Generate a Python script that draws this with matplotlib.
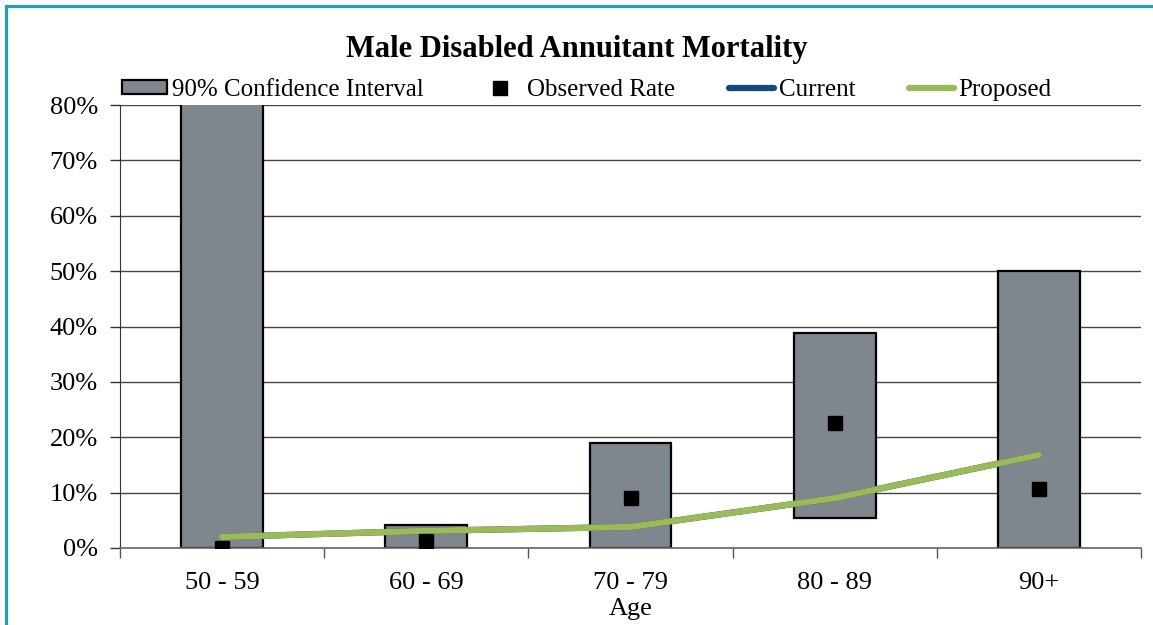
import matplotlib.pyplot as plt
from matplotlib.patches import Rectangle
from matplotlib.ticker import PercentFormatter

plt.rcParams['font.family'] = ['Liberation Serif', 'DejaVu Serif']

age_groups = ['50 - 59', '60 - 69', '70 - 79', '80 - 89', '90+']
ci_low = [0.0, 0.0, 0.0, 5.5, 0.0]
ci_high = [100.0, 4.2, 18.9, 38.9, 50.0]
observed = [0.0, 1.3, 9.0, 22.6, 10.6]
current = [2.0, 3.1, 3.8, 9.0, 16.8]
proposed = [2.0, 3.1, 3.8, 9.0, 16.8]

fig = plt.figure(figsize=(11.53, 6.25), dpi=100)
ax = fig.add_axes([0.1041, 0.1232, 0.8855, 0.7088])

x = list(range(len(age_groups)))
heights = [h - l for l, h in zip(ci_low, ci_high)]
bars = ax.bar(x, heights, bottom=ci_low, width=0.4, color='#7F868E',
              edgecolor='black', linewidth=1.6, zorder=2)
obs, = ax.plot(x, observed, linestyle='none', marker='s', markersize=9.5, color='black', zorder=5)
cur, = ax.plot(x, current, color='#0F4A7A', linewidth=4.5, solid_capstyle='round', zorder=3)
prop, = ax.plot(x, proposed, color='#9BBB59', linewidth=4.5, solid_capstyle='round', zorder=4)

ax.set_xlim(-0.5, 4.5)
ax.set_ylim(0, 80)
ax.yaxis.set_major_formatter(PercentFormatter(decimals=0))
ax.set_yticks(range(0, 81, 10))
ax.grid(axis='y', color='#444444', linewidth=1.0, zorder=0)
ax.set_axisbelow(True)

# labels sit at category centres, ticks sit on the boundaries
ax.set_xticks([i - 0.5 for i in range(len(age_groups) + 1)])
ax.set_xticklabels([])
ax.set_xticks(x, minor=True)
ax.set_xticklabels(age_groups, minor=True)
ax.tick_params(axis='x', which='major', length=7, width=1, color='#555555', direction='out')
ax.tick_params(axis='x', which='minor', length=0, pad=17, labelsize=19)
ax.tick_params(axis='y', length=7, width=1, color='#333333', direction='out', pad=9, labelsize=19)

for side in ['top', 'right']:
    ax.spines[side].set_visible(False)
ax.spines['left'].set_color('#333333')
ax.spines['bottom'].set_color('#666666')
ax.spines['bottom'].set_linewidth(1.2)

ax.set_xlabel('Age', fontsize=19, labelpad=3)

fig.text(0.5, 0.92, 'Male Disabled Annuitant Mortality', ha='center', va='center',
         fontsize=22, fontweight='bold')

fig.legend([bars, obs, cur, prop],
           ['90% Confidence Interval', 'Observed Rate', 'Current', 'Proposed'],
           loc='center left', bbox_to_anchor=(0.097, 0.856), ncol=4, frameon=False,
           fontsize=18, handlelength=1.8, handleheight=0.5, handletextpad=0.2,
           columnspacing=2.14, borderaxespad=0)

# teal frame around the chart area
fig.patches.append(Rectangle((6 / 1153, -0.1), 1.2, 1.1 - 6 / 625, transform=fig.transFigure,
                             fill=False, edgecolor='#17A6B8', linewidth=2.2, zorder=10))

fig.savefig('out.png', dpi=100)
